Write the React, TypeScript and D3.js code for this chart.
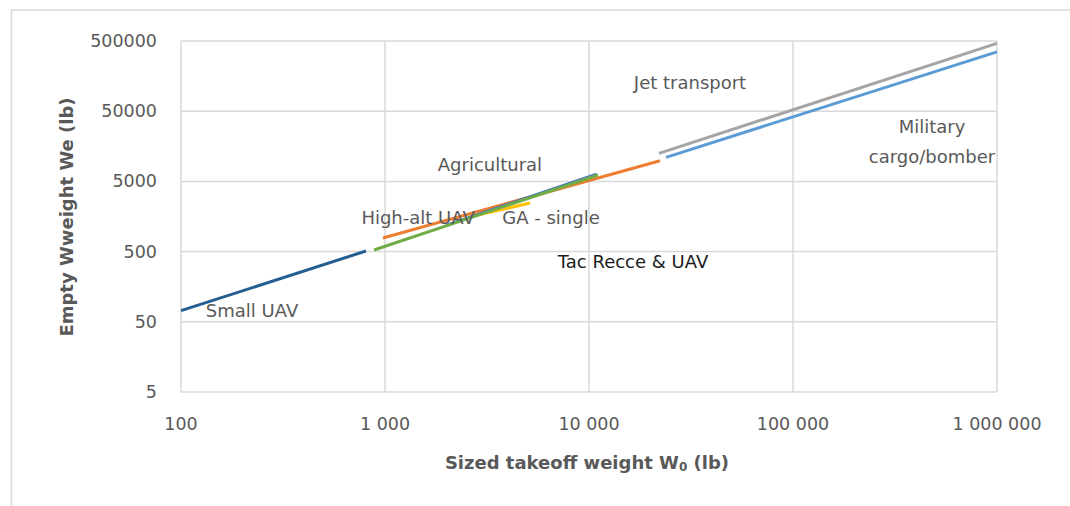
import React from "react";
import * as d3 from "d3";

const xTicks = [100, 1000, 10000, 100000, 1000000];
const xTickLabels = ["100", "1 000", "10 000", "100 000", "1 000 000"];
const yTicks = [5, 50, 500, 5000, 50000, 500000];
const yTickLabels = ["5", "50", "500", "5000", "50000", "500000"];

const seriesNames = ["Agricultural", "High-alt UAV", "Tac Recce & UAV", "GA - single", "Small UAV", "Jet transport", "Military cargo/bomber"];
const seriesColors = ["#FFC000", "#ED7D31", "#4472C4", "#70AD47", "#255E91", "#A5A5A5", "#5B9BD5"];
const seriesX = [
  [2600, 5140],
  [977, 22280],
  [1990, 10900],
  [883, 11070],
  [100, 807],
  [22030, 1000000],
  [23850, 1000000],
];
const seriesY = [
  [1560, 2460],
  [782, 9860],
  [1180, 6360],
  [527, 6165],
  [72, 510],
  [12560, 463000],
  [11020, 350000],
];

const annotationText = [["Jet transport"], ["Military", "cargo/bomber"], ["Agricultural"], ["High-alt UAV"], ["GA - single"], ["Tac Recce & UAV"], ["Small UAV"]];
const annotationX = [31270, 480000, 3270, 1452, 6510, 16430, 223];
const annotationY = [126000, 18000, 8570, 1506, 1506, 355, 71];
const annotationDark = [false, false, false, false, false, true, false];

export default function App() {
  const W = 1070, H = 506;
  const x = d3.scaleLog().domain([100, 1e6]).range([181, 997]);
  const y = d3.scaleLog().domain([5, 500000]).range([392, 41]);
  const line = d3.line<[number, number]>().x(d => x(d[0])).y(d => y(d[1]));
  const font = "'DejaVu Sans', sans-serif";

  return (
    <svg width={W} height={H} style={{ position: "absolute", left: 0, top: 0, background: "#fff" }}>
      <rect x={11.5} y={10} width={W} height={H} fill="#fff" stroke="#d9d9d9" strokeWidth={1.5} />
      {xTicks.map((t, i) => (
        <line key={"gx" + i} x1={x(t)} x2={x(t)} y1={y(500000)} y2={y(5)} stroke="#d9d9d9" strokeWidth={1.5} />
      ))}
      {yTicks.map((t, i) => (
        <line key={"gy" + i} x1={x(100)} x2={x(1e6)} y1={y(t)} y2={y(t)} stroke="#d9d9d9" strokeWidth={1.5} />
      ))}
      {seriesX.map((xs, i) => (
        <path
          key={"s" + i}
          d={line(xs.map((v, j) => [v, seriesY[i][j]] as [number, number])) || ""}
          fill="none"
          stroke={seriesColors[i]}
          strokeWidth={3}
        >
          <title>{seriesNames[i]}</title>
        </path>
      ))}
      {yTicks.map((t, i) => (
        <text key={"ty" + i} x={157} y={y(t)} textAnchor="end" dominantBaseline="central" fontFamily={font} fontSize={17.5} fill="#595959">
          {yTickLabels[i]}
        </text>
      ))}
      {xTicks.map((t, i) => (
        <text key={"tx" + i} x={x(t)} y={424} textAnchor="middle" dominantBaseline="central" fontFamily={font} fontSize={17.5} fill="#595959">
          {xTickLabels[i]}
        </text>
      ))}
      {annotationText.map((lines, i) => (
        <text key={"a" + i} x={x(annotationX[i])} y={y(annotationY[i])} textAnchor="middle" fontFamily={font} fontSize={18} fill={annotationDark[i] ? "#1a1a1a" : "#595959"}>
          {lines.map((l, j) => (
            <tspan key={j} x={x(annotationX[i])} dy={j === 0 ? (lines.length > 1 ? -9 : 6) : 30}>
              {l}
            </tspan>
          ))}
        </text>
      ))}
      <text transform={`translate(66,${217}) rotate(-90)`} textAnchor="middle" dominantBaseline="central" fontFamily={font} fontSize={18} fontWeight="bold" fill="#595959">
        Empty Wweight We (lb)
      </text>
      <text x={587} y={462} textAnchor="middle" dominantBaseline="central" fontFamily={font} fontSize={18} fontWeight="bold" fill="#595959">
        Sized takeoff weight W<tspan fontSize={12} dy={5}>0</tspan>
        <tspan dy={-5}> (lb)</tspan>
      </text>
    </svg>
  );
}
